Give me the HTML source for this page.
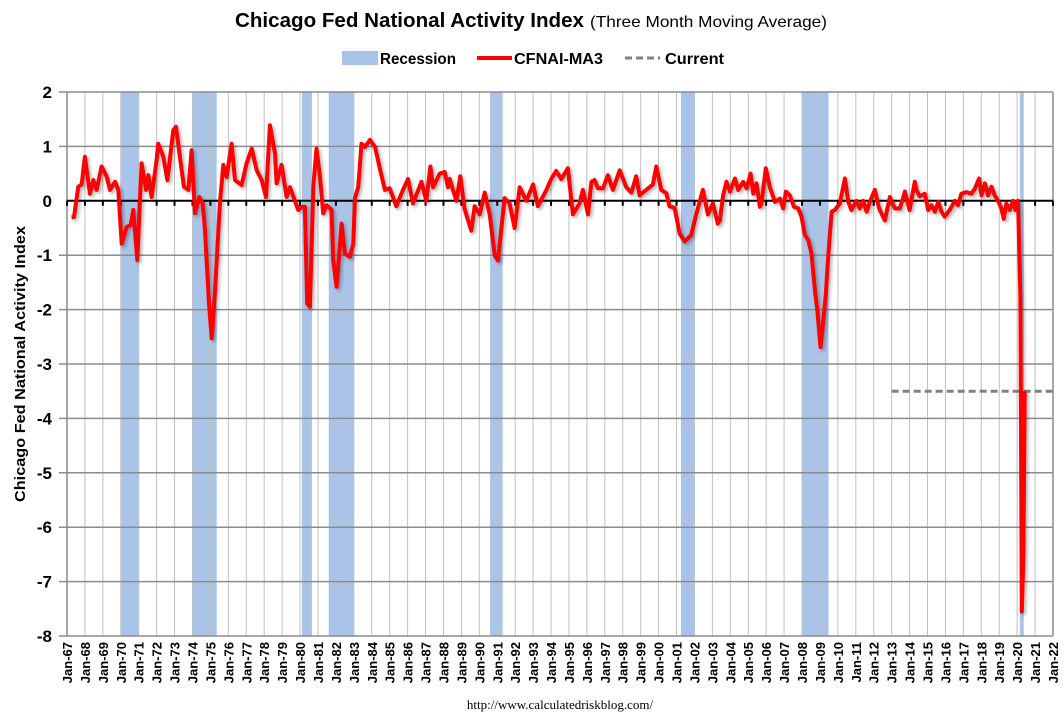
<!DOCTYPE html>
<html><head><meta charset="utf-8"><style>
html,body{margin:0;padding:0;background:#fff;}
svg{display:block;font-family:"Liberation Sans Narrow","Liberation Sans",sans-serif;}
</style></head><body>
<svg id="chart" width="1064" height="723" viewBox="0 0 1064 723" xmlns="http://www.w3.org/2000/svg">
<defs><filter id="sh" x="-5%" y="-5%" width="110%" height="110%"><feDropShadow dx="2" dy="2" stdDeviation="1.5" flood-color="#000" flood-opacity="0.3"/></filter></defs>
<text x="235" y="27" font-size="20" font-weight="bold" textLength="349" lengthAdjust="spacingAndGlyphs">Chicago Fed National Activity Index</text>
<text x="590" y="27" font-size="16" textLength="237" lengthAdjust="spacingAndGlyphs">(Three Month Moving Average)</text>
<g>
<rect x="342" y="51" width="36" height="14" fill="#a9c4e8"/>
<text x="380" y="64" font-size="16" font-weight="bold" textLength="76" lengthAdjust="spacingAndGlyphs">Recession</text>
<line x1="477" y1="58" x2="512" y2="58" stroke="#f00" stroke-width="4"/>
<text x="514" y="64" font-size="16" font-weight="bold" textLength="89" lengthAdjust="spacingAndGlyphs">CFNAI-MA3</text>
<line x1="625" y1="58" x2="660" y2="58" stroke="#808080" stroke-width="3" stroke-dasharray="7,4"/>
<text x="665" y="64" font-size="16" font-weight="bold" textLength="59" lengthAdjust="spacingAndGlyphs">Current</text>
</g>
<g id="plot"></g>
<text transform="translate(25,364) rotate(-90)" text-anchor="middle" font-size="15" font-weight="bold" textLength="276" lengthAdjust="spacingAndGlyphs">Chicago Fed National Activity Index</text>
<text x="560" y="709" text-anchor="middle" font-family="'Liberation Serif',serif" font-size="13">http://www.calculatedriskblog.com/</text>
</svg>
<script>
const dates = [1967.25,1967.39,1967.63,1967.82,1968.0,1968.28,1968.47,1968.65,1968.93,1969.21,1969.4,1969.68,1969.86,1970.05,1970.33,1970.55,1970.7,1970.92,1971.16,1971.41,1971.54,1971.72,1972.0,1972.09,1972.37,1972.6,1972.93,1973.08,1973.3,1973.52,1973.77,1973.95,1974.14,1974.38,1974.57,1974.7,1974.92,1975.07,1975.25,1975.53,1975.72,1975.9,1976.18,1976.37,1976.74,1977.02,1977.3,1977.58,1977.86,1978.1,1978.32,1978.6,1978.69,1978.97,1979.25,1979.44,1979.71,1979.9,1980.09,1980.27,1980.4,1980.55,1980.74,1980.92,1981.11,1981.29,1981.48,1981.76,1981.85,1982.04,1982.32,1982.5,1982.78,1982.97,1983.06,1983.25,1983.43,1983.62,1983.9,1984.18,1984.45,1984.73,
1985.0,1985.37,1985.74,1986.02,1986.3,1986.77,1987.04,1987.27,1987.42,1987.79,1988.07,1988.25,1988.35,1988.72,1988.94,1989.18,1989.55,1989.74,1990.02,1990.3,1990.58,1990.86,1991.04,1991.41,1991.69,1991.97,1992.25,1992.62,1993.0,1993.27,1993.74,1994.01,1994.29,1994.57,1994.94,1995.22,1995.59,1995.78,1996.06,1996.25,1996.43,1996.62,1996.9,1997.17,1997.45,1997.83,1998.2,1998.48,1998.75,1998.94,1999.31,1999.68,1999.87,2000.15,2000.43,2000.61,2000.89,2001.17,2001.45,2001.82,2002.1,2002.47,2002.75,2003.03,2003.3,2003.42,2003.6,2003.79,2003.98,2004.26,2004.44,2004.72,2004.91,2005.13,2005.28,2005.46,2005.65,2005.74,2005.98,2006.2,2006.49,2006.77,2006.95,2007.1,2007.32,2007.55,2007.79,2007.97,2008.16,2008.35,2008.53,2008.72,2008.85,2009.03,2009.18,2009.33,2009.46,2009.65,2009.83,2010.11,2010.39,2010.58,2010.76,2011.04,2011.22,2011.41,2011.6,2011.78,2012.06,2012.3,2012.62,2012.9,2013.18,2013.46,2013.74,2014.0,2014.29,2014.38,2014.57,2014.85,2015.04,2015.22,2015.41,2015.6,2015.78,2015.96,2016.24,2016.52,2016.7,2016.89,2017.17,2017.45,2017.64,2017.88,2018.01,2018.2,2018.38,2018.57,2018.75,2018.94,2019.12,2019.25,2019.4,2019.59,2019.77,2019.9,2020.05,2020.12,2020.18,2020.26,2020.35,2020.42];
const values = [-0.3,-0.3,0.26,0.3,0.81,0.13,0.38,0.2,0.63,0.45,0.2,0.35,0.2,-0.79,-0.48,-0.45,-0.17,-1.09,0.69,0.2,0.47,0.07,0.75,1.05,0.81,0.38,1.3,1.36,0.81,0.26,0.2,0.93,-0.23,0.07,-0.05,-0.54,-1.89,-2.53,-1.7,-0.05,0.66,0.44,1.05,0.38,0.29,0.69,0.96,0.56,0.38,0.07,1.39,0.87,0.32,0.66,0.07,0.25,0.0,-0.17,-0.11,-0.11,-1.89,-1.95,0.26,0.96,0.44,-0.23,-0.08,-0.17,-1.09,-1.58,-0.42,-0.97,-1.03,-0.79,0.04,0.26,1.05,0.99,1.12,0.99,0.6,0.2,
0.23,-0.1,0.2,0.4,-0.05,0.35,0.0,0.63,0.25,0.5,0.53,0.25,0.4,0.0,0.45,-0.15,-0.55,-0.1,-0.25,0.15,-0.25,-1.0,-1.1,0.05,-0.05,-0.5,0.25,0.0,0.3,-0.1,0.2,0.4,0.55,0.4,0.6,-0.25,-0.05,0.2,-0.25,0.35,0.38,0.23,0.23,0.47,0.2,0.56,0.25,0.15,0.45,0.1,0.2,0.3,0.63,0.2,0.14,-0.1,-0.13,-0.6,-0.75,-0.63,-0.25,0.2,-0.25,-0.05,-0.42,-0.36,0.1,0.35,0.17,0.41,0.2,0.35,0.23,0.5,0.13,0.32,-0.11,-0.05,0.6,0.26,-0.02,0.04,-0.14,0.17,0.1,-0.11,-0.14,-0.29,-0.63,-0.72,-0.97,-1.64,-2.0,-2.69,-2.23,-1.7,-1.03,-0.2,-0.17,-0.05,0.41,-0.02,-0.17,0.0,-0.14,0.0,-0.2,-0.02,0.2,-0.14,-0.36,0.07,-0.14,-0.14,0.17,-0.17,0.35,0.2,0.08,0.13,-0.17,-0.08,-0.2,-0.02,-0.2,-0.29,-0.17,0.0,-0.08,0.13,0.16,0.13,0.22,0.41,0.1,0.32,0.1,0.26,0.1,0.0,-0.14,-0.33,-0.05,-0.17,0.0,-0.17,0.0,-0.9,-1.8,-7.55,-6.5,-3.5];
const recessionStarts = [1970.0,1974.0,1980.1,1981.6,1990.6,2001.25,2008.0,2020.15];
const recessionEnds = [1971.0,1975.35,1980.66,1983.0,1991.3,2001.97,2009.48,2020.37];
const yTicks = [2,1,0,-1,-2,-3,-4,-5,-6,-7,-8];
const xYears = [];
for (let y = 67; y <= 122; y++) xYears.push(y);
const currentValue = -3.5;
const currentStart = 2013.0;

const L=67,R=1053,T=92,B=636;
const X0=1967,X1=2022,Y0=-8,Y1=2;
const xs=d=>L+(d-X0)/(X1-X0)*(R-L);
const ys=v=>B-(v-Y0)/(Y1-Y0)*(B-T);
const NS="http://www.w3.org/2000/svg";
const plot=document.getElementById('plot');
function mk(tag,attrs,parent){const e=document.createElementNS(NS,tag);for(const k in attrs)e.setAttribute(k,attrs[k]);(parent||plot).appendChild(e);return e;}

// recessions
recessionStarts.forEach((s,i)=>{
  const r=mk('rect',{x:xs(s),y:T,width:xs(recessionEnds[i])-xs(s),height:B-T,fill:'#a9c4e8'});
  
  
});
// vertical grid
xYears.forEach(y=>{
  const l=mk('line',{x1:xs(1900+y),x2:xs(1900+y),y1:T,y2:B,stroke:'#c0c0c0','stroke-width':1});
  
  
  const lbl=(y%100<10?'0':'')+(y%100);
  const t=mk('text',{transform:`translate(${xs(1900+y)+5},${B+6}) rotate(-90)`,'text-anchor':'end','font-size':13,'font-weight':'bold'});
  t.textContent='Jan-'+lbl;
  
  
});
// horizontal grid
yTicks.forEach(v=>{
  if(v!==0){const l=mk('line',{x1:L-8,x2:R,y1:ys(v),y2:ys(v),stroke:'#8c8c8c','stroke-width':1.5});
  
  }
  const t=mk('text',{x:52,y:ys(v)+6,'text-anchor':'end','font-size':17,'font-weight':'bold','font-family':'"Liberation Sans",sans-serif'});
  t.textContent=v;
  
  
});
const ax=mk('line',{x1:L,x2:L,y1:T,y2:B,stroke:'#8c8c8c','stroke-width':1.5});


const rb=mk('line',{x1:R,x2:R,y1:T,y2:B,stroke:'#8c8c8c','stroke-width':1.5});


// zero axis
const z=mk('line',{x1:L,x2:R,y1:ys(0),y2:ys(0),stroke:'#000','stroke-width':2});


xYears.forEach(y=>{
  const tk=mk('line',{x1:xs(1900+y),x2:xs(1900+y),y1:ys(0),y2:ys(0)+5,stroke:'#000','stroke-width':2});
  
  
});
// current line
const cur=mk('line',{x1:xs(currentStart),x2:R,y1:ys(currentValue),y2:ys(currentValue),stroke:'#808080','stroke-width':3,'stroke-dasharray':'7,4'});


// series
const pts=dates.map((d,i)=>xs(d).toFixed(1)+','+ys(values[i]).toFixed(1)).join(' ');
const pl=mk('polyline',{points:pts,fill:'none',stroke:'#ff0000','stroke-width':4,'stroke-linejoin':'round',filter:'url(#sh)'});


</script>
</body></html>
